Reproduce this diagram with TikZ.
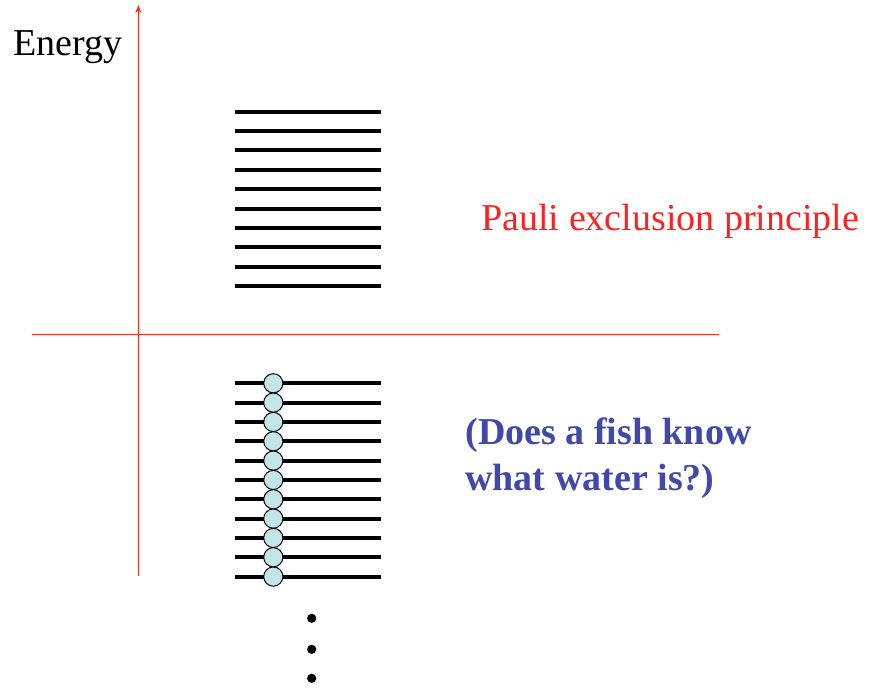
\documentclass[tikz,border=0pt]{standalone}
\usepackage{fontspec}
\setmainfont{Liberation Serif}
\usetikzlibrary{arrows.meta}
\definecolor{axisred}{RGB}{255,45,20}
\definecolor{labelred}{RGB}{255,32,32}
\definecolor{fishblue}{RGB}{64,72,170}
\definecolor{electron}{RGB}{196,229,231}
\begin{document}
\begin{tikzpicture}[x=0.5pt,y=-0.5pt,
  axis/.style={draw=axisred,line width=0.65pt},
  level/.style={draw=black,line width=2pt},
  electronball/.style={circle,draw=black,line width=0.5pt,fill=electron,minimum size=9.6pt,inner sep=0pt},
  dotmark/.style={circle,fill=black,minimum size=4.6pt,inner sep=0pt},
  txt/.style={inner sep=0pt,anchor=base west}]
\useasboundingbox (0,0) rectangle (872,688);

% axes
\coordinate (ybot) at (138.3,576);
\coordinate (ytop) at (138.3,5);
\coordinate (xleft) at (32,334.3);
\coordinate (xright) at (719,334.3);
\draw[axis,-{Stealth[length=4pt,width=3pt]}] (ybot) -- (ytop);
\draw[axis] (xleft) -- (xright);

% empty levels above the gap
\foreach \i in {0,...,9}{
  \coordinate (ua\i) at (235,111.7+19.4*\i);
  \coordinate (ub\i) at (381,111.7+19.4*\i);
  \draw[level] (ua\i) -- (ub\i);
}

% filled levels below the gap
\foreach \i in {0,...,10}{
  \coordinate (la\i) at (235,383.3+19.33*\i);
  \coordinate (lb\i) at (381,383.3+19.33*\i);
  \draw[level] (la\i) -- (lb\i);
}
\foreach \i in {0,...,10}{
  \node[electronball] (e\i) at (273.3,383.3+19.33*\i) {};
}

% continuation dots
\node[dotmark] (d1) at (311.7,618.3) {};
\node[dotmark] (d2) at (311.7,649.3) {};
\node[dotmark] (d3) at (311.7,678.3) {};

% labels (the two-line label is anchored on its last baseline)
\node[txt,font=\fontsize{19}{22}\selectfont] (energy) at (13,56) {Energy};
\node[txt,text=labelred,font=\fontsize{19}{23}\selectfont] (pauli) at (481,231) {Pauli exclusion principle};
\node[txt,text=fishblue,font=\fontsize{19}{23}\selectfont\bfseries,align=left] (fish) at (465,491) {(Does a fish know\\what water is?)};
\end{tikzpicture}
\end{document}
